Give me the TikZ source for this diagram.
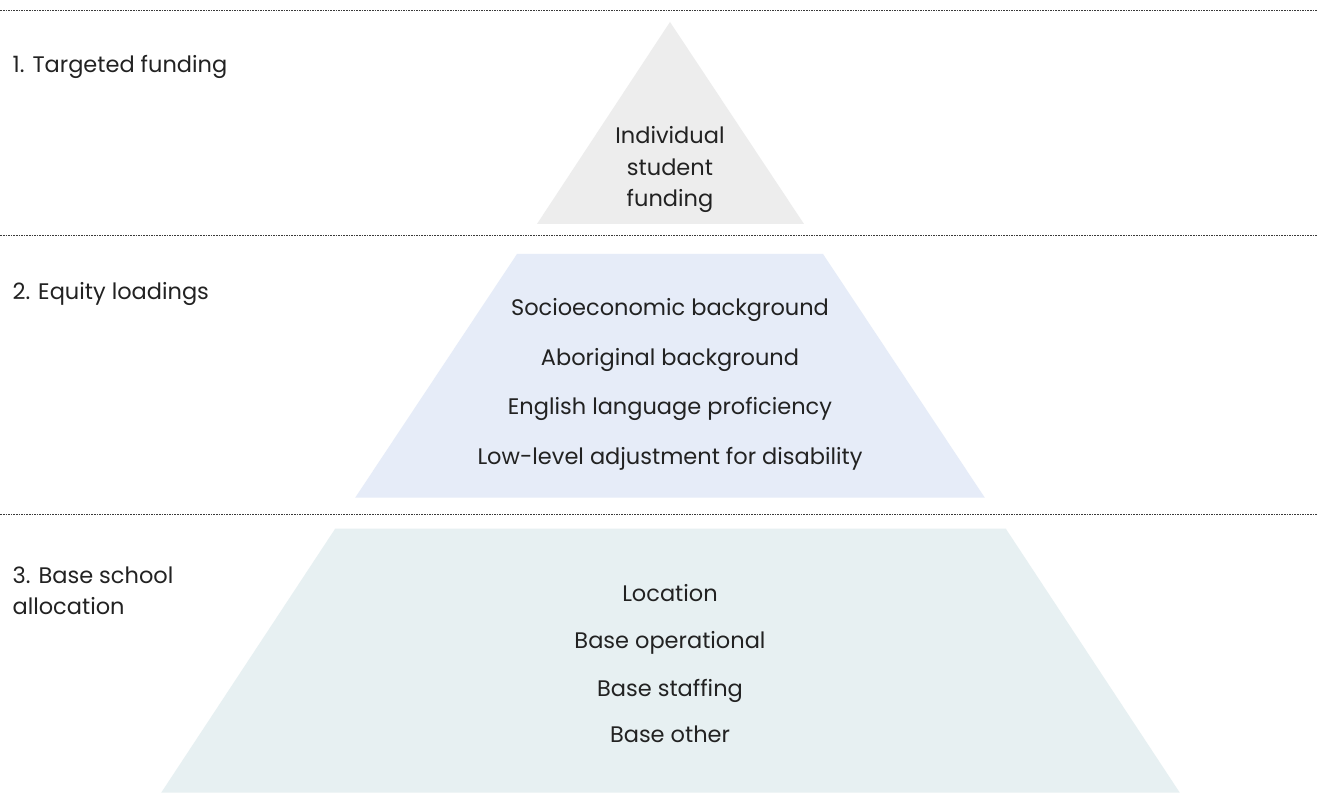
\documentclass[tikz,border=0pt]{standalone}
\usepackage{fontspec}
\setmainfont{Poppins}
\usepackage{xcolor}
\definecolor{toptier}{HTML}{EDEDED}
\definecolor{midtier}{HTML}{E6ECF8}
\definecolor{basetier}{HTML}{E7F0F2}
\definecolor{ink}{HTML}{222222}
\definecolor{rule}{HTML}{3A3A3A}

\begin{document}
\begin{tikzpicture}[x=1pt,y=-1pt,
		label/.style={text=ink,inner sep=0pt,font=\fontsize{22.5}{31.5}\selectfont},
		divider/.style={rule,line width=0.8pt,dash pattern=on 1.6pt off 1pt}]
		\fill [white] (0,0) rectangle (1317,809);
		%
		\draw [divider] (0,10) -- (1317,10);
		\draw [divider] (0,236) -- (1317,236);
		\draw [divider] (0,515) -- (1317,515);
		%
		\fill [toptier] (670,22) -- (804,224) -- (537,224) -- cycle;
		\fill [midtier] (517,254) -- (823,254) -- (985,498) -- (355,498) -- cycle;
		\fill [basetier] (335,529) -- (1006,529) -- (1180,793) -- (161,793) -- cycle;
		%
		\node [label,anchor=base west] (tier1) at (12,73) {1. Targeted funding};
		\node [label,anchor=base west] (tier2) at (12,300) {2. Equity loadings};
		\node [label,anchor=west,align=left] (tier3) at (12,591) {3. Base school\\allocation};
		%
		\node [label,align=center] (student) at (670,170) {Individual\\student\\funding};
		%
		\node [label,anchor=base] (socio) at (670,316) {Socioeconomic background};
		\node [label,anchor=base] (aboriginal) at (670,366) {Aboriginal background};
		\node [label,anchor=base] (english) at (670,415) {English language proficiency};
		\node [label,anchor=base] (disability) at (670,465) {Low-level adjustment for disability};
		%
		\node [label,anchor=base] (location) at (670,602) {Location};
		\node [label,anchor=base] (operational) at (670,649) {Base operational};
		\node [label,anchor=base] (staffing) at (670,697) {Base staffing};
		\node [label,anchor=base] (other) at (670,743) {Base other};
	\end{tikzpicture}
\end{document}
